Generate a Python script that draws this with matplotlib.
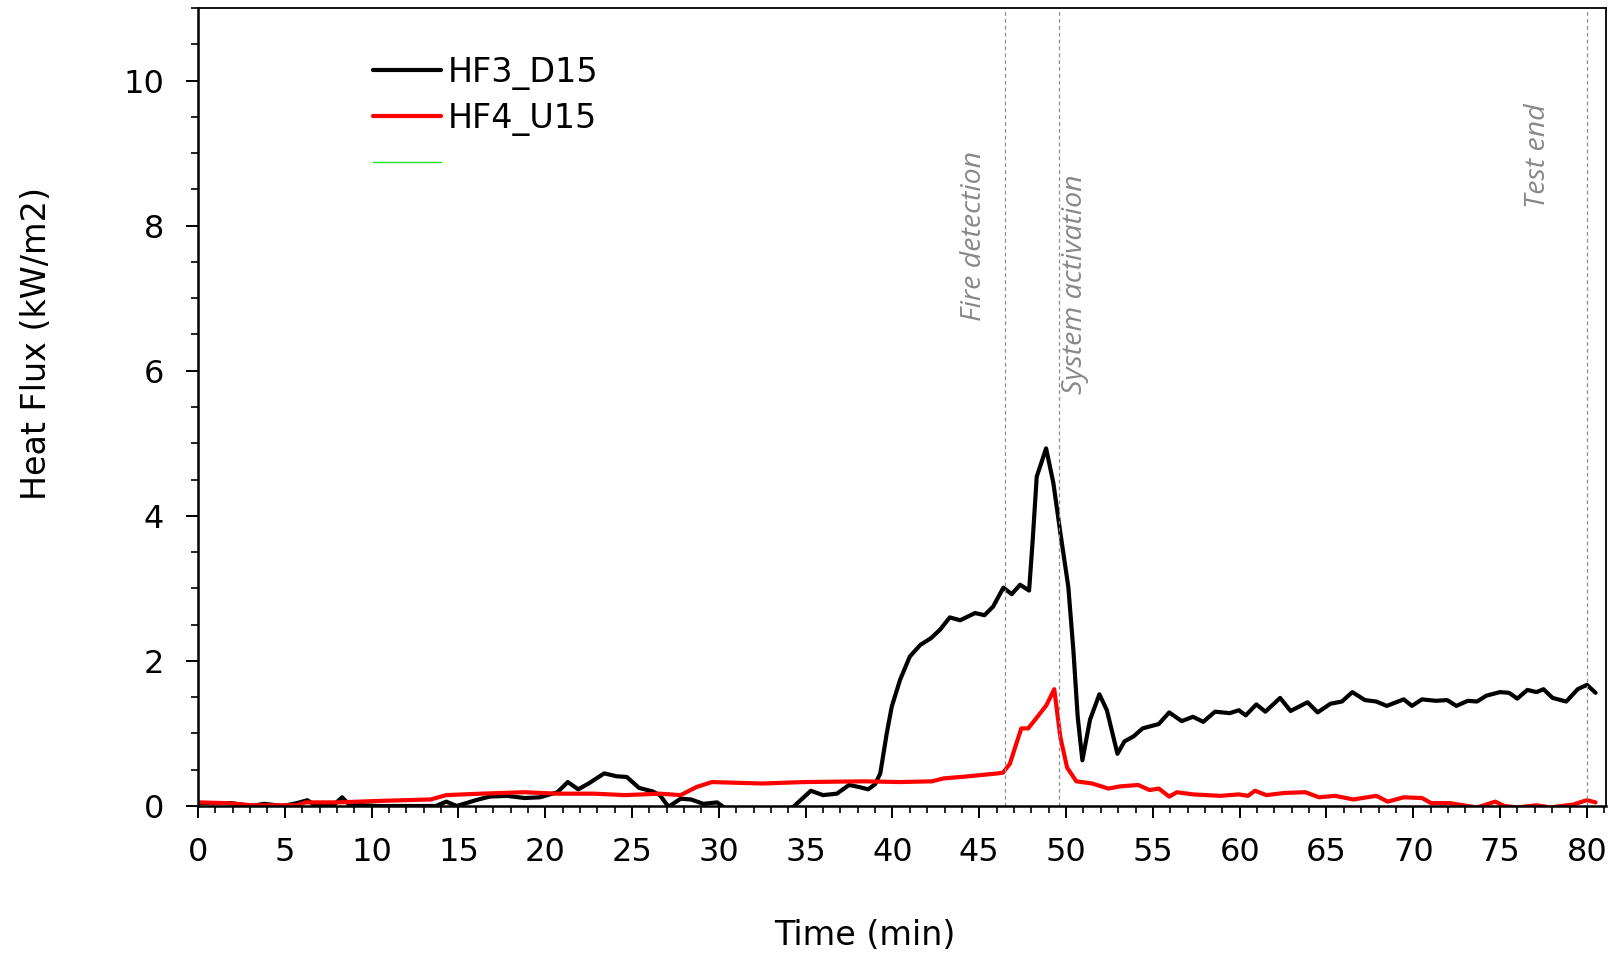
import matplotlib
matplotlib.use("Agg")
import matplotlib.pyplot as plt
from matplotlib.ticker import MultipleLocator

# ---- data ----
hf3_t = [0, 1.9, 3.1, 3.8, 4.9, 5.7, 6.3, 6.8, 7.8, 8.3, 8.7, 10.4, 13.7, 14.3, 14.9,
         16.0, 16.8, 17.8, 18.8, 19.7, 20.7, 21.3, 21.9, 22.5, 23.4, 24.1, 24.7, 25.4,
         26.2, 26.6, 27.1, 27.8, 28.4, 29.1, 29.9, 30.3, 31.0, 33.0, 34.3, 35.3, 36.0,
         36.8, 37.5, 38.1, 38.6, 39.0, 39.3, 39.67, 39.96, 40.44, 41.0, 41.6, 42.2,
         42.74, 43.3, 43.9, 44.76, 45.3, 45.8, 46.39, 46.87, 47.35, 47.87, 48.08,
         48.31, 48.85, 49.27, 49.65, 50.13, 50.42, 50.67, 50.94, 51.38, 51.92, 52.35,
         52.96, 53.36, 53.89, 54.41, 55.34, 55.94, 56.66, 57.31, 57.9, 58.58, 59.43,
         59.95, 60.35, 60.96, 61.48, 62.33, 62.93, 63.91, 64.49, 65.23, 65.89, 66.49,
         67.21, 67.87, 68.47, 69.45, 69.92, 70.5, 71.3, 71.95, 72.48, 73.14, 73.67,
         74.2, 74.99, 75.52, 75.99, 76.57, 77.1, 77.5, 78.02, 78.81, 79.47, 80.0, 80.5]
hf3_v = [0.04, 0.04, 0.0, 0.03, 0.0, 0.04, 0.08, 0.0, 0.01, 0.12, 0.02, 0.0, 0.0, 0.06, 0.0,
         0.08, 0.13, 0.14, 0.11, 0.12, 0.19, 0.33, 0.23, 0.31, 0.45, 0.41, 0.40, 0.25,
         0.20, 0.15, -0.01, 0.10, 0.09, 0.03, 0.05, -0.02, -0.15, -0.15, -0.01, 0.21, 0.15,
         0.17, 0.29, 0.26, 0.23, 0.30, 0.45, 1.0, 1.37, 1.74, 2.06, 2.22, 2.31,
         2.43, 2.60, 2.56, 2.66, 2.63, 2.75, 3.01, 2.92, 3.05, 2.97, 3.67,
         4.54, 4.93, 4.45, 3.80, 3.02, 2.15, 1.23, 0.63, 1.19, 1.54, 1.32,
         0.72, 0.89, 0.96, 1.07, 1.13, 1.29, 1.17, 1.23, 1.16, 1.30, 1.28,
         1.32, 1.25, 1.40, 1.30, 1.49, 1.31, 1.43, 1.29, 1.41, 1.44, 1.57,
         1.46, 1.44, 1.38, 1.47, 1.38, 1.47, 1.45, 1.46, 1.38, 1.45, 1.44,
         1.52, 1.57, 1.56, 1.48, 1.60, 1.57, 1.61, 1.49, 1.44, 1.61, 1.67, 1.56]

hf4_t = [0, 1.6, 3.1, 5.7, 6.2, 8.1, 10.4, 13.4, 14.3, 16.3, 18.8, 20.7, 22.8, 24.6, 26.6,
         27.8, 28.7, 29.6, 31.0, 32.5, 34.9, 38.4, 40.4, 42.28, 42.94, 44.39, 46.1, 46.37,
         46.76, 47.42, 47.82, 48.35, 48.87, 49.32, 49.67, 50.06, 50.59, 51.51, 52.44,
         53.1, 54.15, 54.81, 55.34, 55.94, 56.39, 57.31, 58.9, 59.95, 60.48, 60.88,
         61.54, 62.59, 63.78, 64.57, 65.49, 66.55, 67.87, 68.53, 69.45, 70.5, 71.03,
         72.09, 73.14, 73.67, 74.72, 75.25, 76.0, 77.1, 77.89, 79.2, 80.0, 80.5]
hf4_v = [0.05, 0.04, 0.01, 0.01, 0.05, 0.05, 0.07, 0.09, 0.15, 0.17, 0.19, 0.17, 0.17, 0.15, 0.17,
         0.15, 0.26, 0.33, 0.32, 0.31, 0.33, 0.34, 0.33, 0.34, 0.38, 0.41, 0.45, 0.46,
         0.58, 1.07, 1.07, 1.23, 1.39, 1.61, 0.95, 0.53, 0.34, 0.31, 0.24,
         0.27, 0.29, 0.22, 0.24, 0.13, 0.19, 0.16, 0.14, 0.16, 0.14, 0.21,
         0.15, 0.18, 0.19, 0.12, 0.14, 0.09, 0.14, 0.06, 0.12, 0.11, 0.04,
         0.04, 0.0, -0.02, 0.06, 0.0, -0.02, 0.01, -0.02, 0.02, 0.08, 0.05]

series_labels = ["HF3_D15", "HF4_U15", ""]
series_colors = ["black", "#ff0000", "#22e022"]

event_times = [46.5, 49.6, 80.0]
event_labels = ["Fire detection", "System activation", "Test end"]
event_text_x = [44.72, 50.53, 77.2]
event_text_y = [6.68, 5.68, 8.24]

# ---- figure ----
fig = plt.figure(figsize=(16.16, 9.58), dpi=100)
ax = fig.add_axes([198 / 1616, 1 - 806 / 958, 1408 / 1616, 798 / 958])

l1, = ax.plot(hf3_t, hf3_v, color=series_colors[0], lw=3.0,
              solid_joinstyle="round", solid_capstyle="round")
l2, = ax.plot(hf4_t, hf4_v, color=series_colors[1], lw=3.0,
              solid_joinstyle="round", solid_capstyle="round")
l3, = ax.plot([], [], color=series_colors[2], lw=1.0)

for t, lab, tx, ty in zip(event_times, event_labels, event_text_x, event_text_y):
    ax.axvline(t, color="#8c8c8c", lw=0.9, dashes=(3, 2.5))
    ax.text(tx, ty, lab, rotation=90, ha="center", va="bottom", color="#888888",
            fontsize=20.5, style="italic", family="Open Sans")

ax.set_xlim(0, 81.1)
ax.set_ylim(0, 11)
ax.xaxis.set_major_locator(MultipleLocator(5))
ax.xaxis.set_minor_locator(MultipleLocator(1))
ax.yaxis.set_major_locator(MultipleLocator(2))
ax.yaxis.set_minor_locator(MultipleLocator(0.5))
ax.tick_params(which="major", direction="out", length=8.6, width=1.4, labelsize=23)
ax.tick_params(axis="x", which="major", pad=14)
ax.tick_params(axis="y", which="major", pad=16)
ax.tick_params(which="minor", direction="out", length=5, width=1.2)
ax.tick_params(top=False, right=False)

for s in ["left", "bottom"]:
    ax.spines[s].set_linewidth(1.8)
for s in ["top", "right"]:
    ax.spines[s].set_linewidth(1.3)

ax.set_xlabel("Time (min)", fontsize=24)
ax.set_ylabel("Heat Flux (kW/m2)", fontsize=24)
ax.xaxis.set_label_coords(0.4735, -0.1416)
ax.yaxis.set_label_coords(-0.1033, 0.58)

leg = ax.legend([l1, l2, l3], series_labels, loc="upper left",
                bbox_to_anchor=(0.124, 0.94), frameon=False, fontsize=24,
                handlelength=2.05, handletextpad=0.2, labelspacing=0.35,
                borderpad=0, borderaxespad=0)

fig.savefig("out.png", dpi=100)
